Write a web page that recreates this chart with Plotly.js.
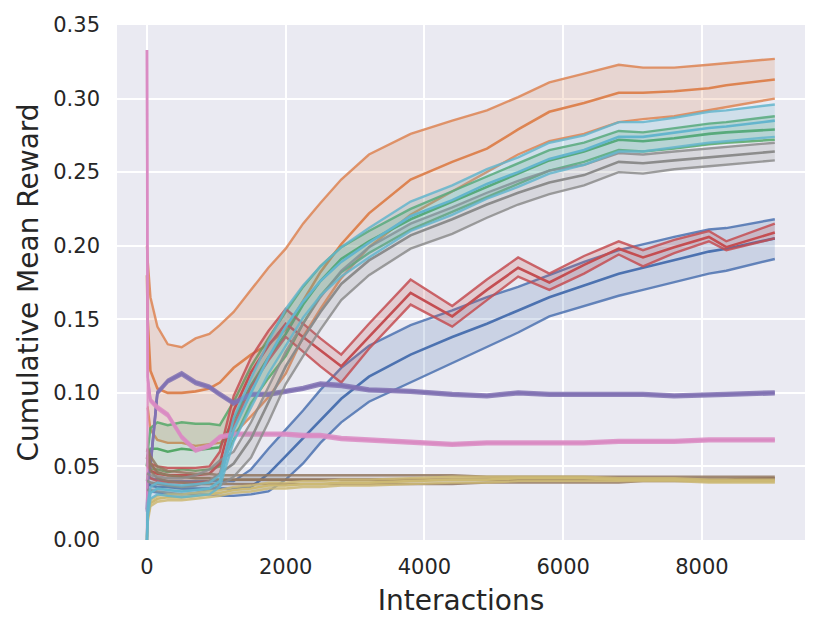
<!DOCTYPE html>
<html>
<head>
<meta charset="utf-8">
<script src="https://cdn.plot.ly/plotly-3.0.1.min.js"></script>
<style>
  html, body { margin: 0; padding: 0; background: #fff; }
  #chart { width: 831px; height: 628px; }
</style>
</head>
<body>
<div id="chart"></div>
<script>
// Cumulative mean reward vs interactions: mean line + upper/lower bound per run, band filled.

const X = [0, 10, 50, 150, 300, 500, 700, 900, 1050, 1250, 1500, 1750, 2000, 2250, 2500, 2800,
  3200, 3800, 4400, 4900, 5350, 5800, 6300, 6800, 7150, 7600, 8100, 8350, 9050];

const BLUE_UP = [0.045,0.045,0.042,0.041,0.040,0.040,0.040,0.040,0.040,0.040,0.048,0.062,0.075,0.088,0.102,0.117,0.132,0.146,0.156,0.165,0.172,0.180,0.189,0.197,0.201,0.206,0.211,0.212,0.218];
const BLUE_MEAN = [0.040,0.040,0.037,0.036,0.036,0.035,0.035,0.035,0.035,0.035,0.036,0.045,0.057,0.069,0.081,0.096,0.111,0.126,0.138,0.147,0.156,0.165,0.173,0.181,0.185,0.190,0.196,0.198,0.205];
const BLUE_LO = [0.035,0.035,0.033,0.032,0.031,0.031,0.031,0.031,0.030,0.030,0.031,0.033,0.041,0.052,0.066,0.080,0.094,0.107,0.120,0.131,0.141,0.152,0.159,0.166,0.170,0.175,0.181,0.183,0.191];

const ORANGE_UP = [0.200,0.190,0.165,0.145,0.133,0.131,0.137,0.140,0.146,0.155,0.170,0.185,0.198,0.215,0.229,0.245,0.262,0.276,0.285,0.292,0.301,0.311,0.317,0.323,0.321,0.321,0.323,0.324,0.327];
const ORANGE_MEAN = [0.180,0.150,0.115,0.103,0.100,0.100,0.101,0.103,0.107,0.117,0.126,0.133,0.143,0.163,0.182,0.201,0.222,0.245,0.257,0.266,0.279,0.291,0.297,0.304,0.304,0.305,0.307,0.309,0.313];
const ORANGE_LO = [0.090,0.090,0.075,0.068,0.066,0.066,0.064,0.065,0.066,0.072,0.084,0.097,0.113,0.138,0.157,0.178,0.199,0.221,0.237,0.250,0.262,0.271,0.276,0.284,0.286,0.288,0.292,0.294,0.300];

const GREEN_UP = [0.050,0.060,0.076,0.080,0.078,0.080,0.079,0.079,0.078,0.094,0.118,0.137,0.155,0.172,0.186,0.199,0.210,0.225,0.237,0.247,0.256,0.265,0.270,0.278,0.277,0.280,0.283,0.284,0.288];
const GREEN_MEAN = [0.050,0.055,0.062,0.062,0.060,0.062,0.061,0.062,0.063,0.082,0.105,0.124,0.140,0.160,0.176,0.191,0.203,0.218,0.230,0.240,0.249,0.258,0.264,0.272,0.271,0.273,0.276,0.277,0.279];
const GREEN_LO = [0.040,0.045,0.048,0.048,0.046,0.048,0.047,0.048,0.050,0.068,0.093,0.110,0.125,0.147,0.166,0.182,0.195,0.211,0.223,0.233,0.242,0.251,0.257,0.265,0.264,0.266,0.269,0.270,0.272];

const RED_UP = [0.055,0.055,0.052,0.050,0.049,0.049,0.049,0.050,0.060,0.098,0.124,0.142,0.157,0.147,0.137,0.126,0.147,0.177,0.159,0.177,0.192,0.181,0.193,0.203,0.197,0.204,0.210,0.203,0.215];
const RED_MEAN = [0.050,0.050,0.047,0.045,0.044,0.044,0.044,0.045,0.052,0.088,0.114,0.132,0.147,0.138,0.129,0.118,0.138,0.168,0.152,0.170,0.185,0.175,0.187,0.198,0.192,0.199,0.206,0.199,0.209];
const RED_LO = [0.045,0.045,0.042,0.040,0.039,0.039,0.039,0.040,0.045,0.078,0.104,0.122,0.138,0.128,0.118,0.107,0.130,0.160,0.145,0.163,0.179,0.170,0.181,0.194,0.186,0.195,0.203,0.197,0.205];

const PURPLE_UP = [0.021,0.041,0.051,0.101,0.109,0.114,0.108,0.105,0.100,0.094,0.100,0.100,0.102,0.104,0.107,0.106,0.103,0.102,0.100,0.099,0.101,0.100,0.100,0.100,0.100,0.099,0.100,0.100,0.101];
const PURPLE_MEAN = [0.020,0.040,0.050,0.100,0.108,0.113,0.107,0.104,0.099,0.093,0.099,0.099,0.101,0.103,0.106,0.105,0.102,0.101,0.099,0.098,0.100,0.099,0.099,0.099,0.099,0.098,0.099,0.099,0.100];
const PURPLE_LO = [0.019,0.039,0.049,0.099,0.107,0.112,0.106,0.103,0.098,0.092,0.098,0.098,0.100,0.102,0.105,0.104,0.101,0.100,0.098,0.097,0.099,0.098,0.098,0.098,0.098,0.097,0.098,0.098,0.099];

const BROWN_UP = [0.060,0.062,0.057,0.050,0.047,0.046,0.045,0.045,0.044,0.044,0.044,0.044,0.044,0.044,0.044,0.044,0.044,0.044,0.044,0.043,0.043,0.043,0.043,0.043,0.043,0.043,0.043,0.043,0.043];
const BROWN_MEAN = [0.055,0.058,0.052,0.046,0.044,0.043,0.042,0.042,0.041,0.041,0.041,0.041,0.041,0.041,0.041,0.041,0.041,0.041,0.041,0.041,0.041,0.041,0.041,0.041,0.041,0.041,0.041,0.041,0.042];
const BROWN_LO = [0.050,0.054,0.047,0.042,0.040,0.039,0.038,0.038,0.038,0.038,0.038,0.038,0.038,0.038,0.038,0.038,0.038,0.038,0.038,0.039,0.039,0.039,0.039,0.039,0.040,0.040,0.040,0.040,0.041];

const PINK_UP = [0.333,0.111,0.096,0.091,0.086,0.071,0.062,0.065,0.071,0.073,0.073,0.073,0.073,0.072,0.072,0.070,0.069,0.067,0.066,0.067,0.067,0.067,0.067,0.068,0.068,0.068,0.069,0.069,0.069];
const PINK_MEAN = [0.333,0.110,0.095,0.090,0.085,0.070,0.061,0.064,0.070,0.072,0.072,0.072,0.072,0.071,0.071,0.069,0.068,0.066,0.065,0.066,0.066,0.066,0.066,0.067,0.067,0.067,0.068,0.068,0.068];
const PINK_LO = [0.000,0.109,0.094,0.089,0.084,0.069,0.060,0.063,0.069,0.071,0.071,0.071,0.071,0.070,0.070,0.068,0.067,0.065,0.064,0.065,0.065,0.065,0.065,0.066,0.066,0.066,0.067,0.067,0.067];

const GRAY_UP = [0.045,0.045,0.044,0.043,0.042,0.042,0.044,0.048,0.054,0.060,0.080,0.104,0.128,0.147,0.165,0.183,0.199,0.215,0.226,0.236,0.244,0.251,0.255,0.263,0.262,0.264,0.266,0.267,0.270];
const GRAY_MEAN = [0.040,0.040,0.039,0.038,0.037,0.036,0.037,0.040,0.045,0.052,0.069,0.094,0.118,0.137,0.155,0.174,0.190,0.207,0.218,0.228,0.236,0.243,0.248,0.257,0.256,0.258,0.260,0.261,0.264];
const GRAY_LO = [0.034,0.034,0.034,0.033,0.032,0.031,0.032,0.034,0.037,0.043,0.056,0.080,0.106,0.125,0.143,0.163,0.180,0.198,0.208,0.219,0.228,0.235,0.241,0.250,0.249,0.252,0.254,0.255,0.258];

const OLIVE_UP = [0.002,0.018,0.027,0.030,0.031,0.031,0.032,0.033,0.034,0.036,0.037,0.039,0.039,0.040,0.040,0.041,0.041,0.042,0.043,0.043,0.043,0.043,0.043,0.042,0.042,0.042,0.041,0.041,0.041];
const OLIVE_MEAN = [0.000,0.015,0.025,0.028,0.029,0.029,0.030,0.031,0.032,0.034,0.035,0.037,0.037,0.038,0.038,0.039,0.039,0.040,0.041,0.041,0.042,0.042,0.042,0.041,0.041,0.041,0.040,0.040,0.040];
const OLIVE_LO = [0.000,0.012,0.023,0.026,0.027,0.027,0.028,0.029,0.030,0.032,0.033,0.035,0.035,0.036,0.036,0.037,0.037,0.038,0.039,0.039,0.040,0.040,0.040,0.040,0.040,0.040,0.039,0.039,0.039];

const CYAN_UP = [0.000,0.025,0.036,0.039,0.038,0.037,0.038,0.039,0.044,0.083,0.110,0.135,0.157,0.173,0.186,0.199,0.212,0.230,0.241,0.252,0.260,0.270,0.275,0.284,0.284,0.287,0.291,0.292,0.296];
const CYAN_MEAN = [0.000,0.020,0.032,0.035,0.034,0.033,0.034,0.035,0.040,0.075,0.100,0.124,0.145,0.162,0.176,0.189,0.202,0.220,0.231,0.242,0.250,0.259,0.265,0.274,0.274,0.277,0.280,0.281,0.285];
const CYAN_LO = [0.000,0.015,0.028,0.031,0.030,0.029,0.030,0.031,0.036,0.067,0.090,0.113,0.132,0.151,0.166,0.179,0.192,0.210,0.221,0.232,0.240,0.249,0.255,0.264,0.264,0.267,0.270,0.271,0.274];

// seaborn "deep" palette, drawn in palette order
const SERIES = [
  { color: "#4C72B0", up: BLUE_UP, mean: BLUE_MEAN, lo: BLUE_LO },
  { color: "#DD8452", up: ORANGE_UP, mean: ORANGE_MEAN, lo: ORANGE_LO },
  { color: "#55A868", up: GREEN_UP, mean: GREEN_MEAN, lo: GREEN_LO },
  { color: "#C44E52", up: RED_UP, mean: RED_MEAN, lo: RED_LO },
  { color: "#8172B3", up: PURPLE_UP, mean: PURPLE_MEAN, lo: PURPLE_LO },
  { color: "#937860", up: BROWN_UP, mean: BROWN_MEAN, lo: BROWN_LO },
  { color: "#DA8BC3", up: PINK_UP, mean: PINK_MEAN, lo: PINK_LO },
  { color: "#8C8C8C", up: GRAY_UP, mean: GRAY_MEAN, lo: GRAY_LO },
  { color: "#CCB974", up: OLIVE_UP, mean: OLIVE_MEAN, lo: OLIVE_LO },
  { color: "#64B5CD", up: CYAN_UP, mean: CYAN_MEAN, lo: CYAN_LO },
];

function rgba(hex, a) {
  const n = parseInt(hex.slice(1), 16);
  return `rgba(${(n >> 16) & 255},${(n >> 8) & 255},${n & 255},${a})`;
}

const traces = [];
SERIES.forEach((s) => {
  const bound = { color: rgba(s.color, 0.85), width: 2.4 };
  traces.push({ x: X, y: s.lo, mode: "lines", line: bound, hoverinfo: "skip" });
  traces.push({ x: X, y: s.up, mode: "lines", line: bound, fill: "tonexty", fillcolor: rgba(s.color, 0.2), hoverinfo: "skip" });
  traces.push({ x: X, y: s.mean, mode: "lines", line: { color: s.color, width: 2.6 }, hoverinfo: "skip" });
});

const FONT = "DejaVu Sans, sans-serif";
const layout = {
  width: 831, height: 628,
  margin: { l: 117, r: 26, t: 25, b: 88 },
  paper_bgcolor: "#ffffff",
  plot_bgcolor: "#EAEAF2",
  showlegend: false,
  font: { family: FONT, color: "#262626", size: 21 },
  xaxis: {
    range: [-432, 9485],
    tickvals: [0, 2000, 4000, 6000, 8000],
    gridcolor: "#ffffff", gridwidth: 2,
    zeroline: false, showline: false, ticks: "",
    ticklabelstandoff: 12,
    tickfont: { size: 21, color: "#262626" },
    title: { text: "Interactions", font: { size: 28, color: "#262626" }, standoff: 12 },
  },
  yaxis: {
    range: [0, 0.35],
    dtick: 0.05, tickformat: ".2f",
    gridcolor: "#ffffff", gridwidth: 2,
    zeroline: false, showline: false, ticks: "",
    ticklabelstandoff: 16,
    tickfont: { size: 21, color: "#262626" },
    title: { text: "Cumulative Mean Reward", font: { size: 28, color: "#262626" }, standoff: 6 },
  },
};

Plotly.newPlot("chart", traces, layout, { displayModeBar: false, staticPlot: true });
</script>
</body>
</html>
